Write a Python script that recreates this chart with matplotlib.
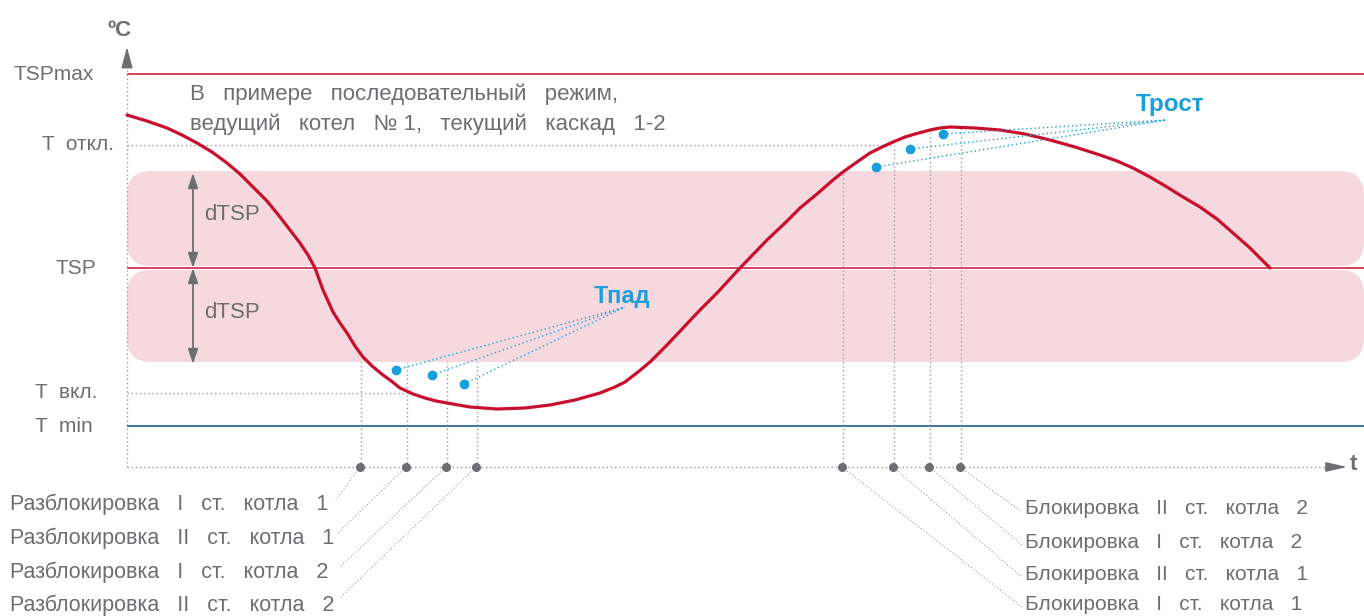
import matplotlib.pyplot as plt
from matplotlib.patches import FancyBboxPatch

# diagram units: t = time from origin, T = temperature above the t axis (1 unit ~ 1 px)
level_names = ["TSPmax", "T  откл.", "TSP", "T  вкл.", "T  min"]
level_T = [393, 322, 199, 74, 41]
dTSP = 95

curve_t = [0, 20, 40, 55, 70, 85, 100, 113, 126, 140, 153, 163, 173, 181, 188, 192, 196,
           201, 206, 213, 220, 228, 236, 245, 256, 263, 273, 286, 298, 309, 320, 343, 370,
           398, 423, 448, 473, 488, 498, 511, 523, 540, 556, 573, 590, 613, 640, 658, 673,
           690, 706, 716, 730, 743, 755, 766, 778, 788, 803, 813, 823, 848, 873, 898, 923,
           948, 973, 990, 1006, 1023, 1040, 1056, 1073, 1090, 1106, 1123, 1143]
curve_T = [352, 346, 339, 332, 324, 315, 304, 293, 280, 266, 250, 237, 224, 212, 199, 188, 177,
           166, 155, 144, 134, 121, 110, 101, 92, 87, 79, 73, 69, 66, 64, 60, 58,
           59, 62, 67, 74, 80, 85, 95, 105, 122, 139, 157, 174, 199, 227, 244, 259,
           273, 287, 295, 305, 314, 320, 325, 330, 333, 337, 339, 340, 339, 337, 333, 327,
           320, 312, 306, 299, 290, 280, 270, 260, 248, 234, 219, 199]

# events on the time axis
unlock_t = [233, 279, 319, 349]
lock_t = [715, 766, 802, 833]
lock_top = [295, 322, 335, 340]
unlock_labels = ["Разблокировка   I   ст.   котла   1", "Разблокировка   II   ст.   котла   1",
                 "Разблокировка   I   ст.   котла   2", "Разблокировка   II   ст.   котла   2"]
lock_labels = ["Блокировка   II   ст.   котла   2", "Блокировка   I   ст.   котла   2",
               "Блокировка   II   ст.   котла   1", "Блокировка   I   ст.   котла   1"]

# blue measuring points
fall_t = [269, 305, 337]
fall_T = [97, 92, 83]
rise_t = [749, 783, 816]
rise_T = [300, 318, 333]

red = "#c8102e"
pink = "#f5d9de"
gray = "#6d6e71"
dotgray = "#9b9b9b"
cyan = "#1a9fdc"
navy = "#1b5b8a"
dots = (0, (1, 2))

plt.rcParams['font.family'] = ['Liberation Sans', 'DejaVu Sans']

fig = plt.figure(figsize=(13.64, 6.16), dpi=100)
ax = fig.add_axes([0, 0, 1, 1])
ax.set_xlim(-127, 1237)
ax.set_ylim(-149, 467)
ax.axis("off")

tsp = level_T[2]
# dTSP bands
for lo, hi in [(tsp + 2, tsp + 2 + dTSP), (tsp - 2 - dTSP + 3, tsp - 2)]:
    ax.add_patch(FancyBboxPatch((0, lo), 1237, hi - lo,
                                boxstyle="round,pad=0,rounding_size=24",
                                fc=pink, ec="none", zorder=1))

# axes
ax.plot([0, 0], [0, 402], color=dotgray, lw=1, ls=dots, zorder=2)
ax.plot([0, 1208], [0, 0], color=dotgray, lw=1, ls=dots, zorder=2)
ax.annotate("", xy=(0, 420), xytext=(0, 401),
            arrowprops=dict(arrowstyle="-|>,head_length=1.3,head_width=0.35",
                            color=gray, lw=1, shrinkA=0, shrinkB=0))
ax.annotate("", xy=(1220, 0), xytext=(1200, 0),
            arrowprops=dict(arrowstyle="-|>,head_length=1.3,head_width=0.3",
                            color=gray, lw=1, shrinkA=0, shrinkB=0))
ax.text(-7, 436, "ºC", fontsize=16, fontweight="bold", color=gray, ha="center", va="center")
ax.text(1226, 3, "t", fontsize=16, fontweight="bold", color=gray, ha="center", va="center")

# level lines
ax.plot([1, 1237], [level_T[0]] * 2, color=red, lw=1.1, zorder=2)
ax.plot([1, 1237], [level_T[2]] * 2, color=red, lw=1.1, zorder=2)
ax.plot([1, 1237], [level_T[4]] * 2, color=navy, lw=1.2, zorder=2)
ax.plot([0, 766], [level_T[1]] * 2, color=dotgray, lw=1, ls=dots, zorder=2)
ax.plot([0, 280], [level_T[3]] * 2, color=dotgray, lw=1, ls=dots, zorder=2)

label_x = [-114, -85, -72, -92, -92]
for name, T, x in zip(level_names, level_T, label_x):
    ax.text(x, T, name, fontsize=15, color=gray, ha="left", va="center")

# dTSP arrows
for lo, hi, ty in [(tsp, tsp + dTSP, tsp + 54), (tsp - dTSP - 1, tsp, tsp - 44)]:
    ax.annotate("", xy=(66, hi), xytext=(66, lo),
                arrowprops=dict(arrowstyle="<|-|>,head_length=0.9,head_width=0.3",
                                color=gray, lw=1.3, shrinkA=0, shrinkB=0), zorder=3)
    ax.text(77, ty, "dTSP", fontsize=16, color=gray, ha="left", va="center")

# temperature curve
ax.plot(curve_t, curve_T, color=red, lw=2.3, solid_capstyle="round",
        solid_joinstyle="round", zorder=4)

# vertical event lines and markers
for t in unlock_t:
    ax.plot([t + 1, t + 1], [0, 105], color=dotgray, lw=1, ls=dots, zorder=2)
for t, top in zip(lock_t, lock_top):
    ax.plot([t + 1, t + 1], [0, top], color=dotgray, lw=1, ls=dots, zorder=2)
ax.plot(unlock_t + lock_t, [0] * 8, "o", color=gray, ms=5.5, zorder=5)

# event labels with leaders
unlock_y = [-37, -71, -105, -138]
unlock_end = [(209, -33), (211, -66), (213, -100), (213, -131)]
for t, y, lab, end in zip(unlock_t, unlock_y, unlock_labels, unlock_end):
    ax.text(-117, y, lab, fontsize=15.5, color=gray, ha="left", va="center")
    ax.plot([t, end[0]], [0, end[1]], color=dotgray, lw=0.8, ls=dots, zorder=2)

lock_y = [-42, -75, -108, -138]
lock_end = [(895, -140), (895, -110), (895, -78), (895, -45)]
for y, lab in zip(lock_y, lock_labels):
    ax.text(898, y, lab, fontsize=15, color=gray, ha="left", va="center")
for t, end in zip(lock_t, lock_end):
    ax.plot([t, end[0]], [0, end[1]], color=dotgray, lw=0.8, ls=dots, zorder=2)

# Tпад / Трост
for t, T in zip(fall_t, fall_T):
    ax.plot([t, 498], [T, 160], color=cyan, lw=1, ls=dots, zorder=4)
ax.plot(fall_t, fall_T, "o", color=cyan, ms=6, zorder=5)
ax.text(495, 171, "Тпад", fontsize=17, fontweight="bold", color=cyan, ha="center", va="center")
for t, T in zip(rise_t, rise_T):
    ax.plot([t, 1039], [T, 347], color=cyan, lw=1, ls=dots, zorder=4)
ax.plot(rise_t, rise_T, "o", color=cyan, ms=6, zorder=5)
ax.text(1043, 362, "Трост", fontsize=17.5, fontweight="bold", color=cyan, ha="center", va="center")

ax.text(63, 358, "В   примере   последовательный   режим,\nведущий   котел   № 1,   текущий   каскад   1-2",
        fontsize=16, color=gray, ha="left", va="center", linespacing=1.5)

fig.savefig("out.png", dpi=100)
